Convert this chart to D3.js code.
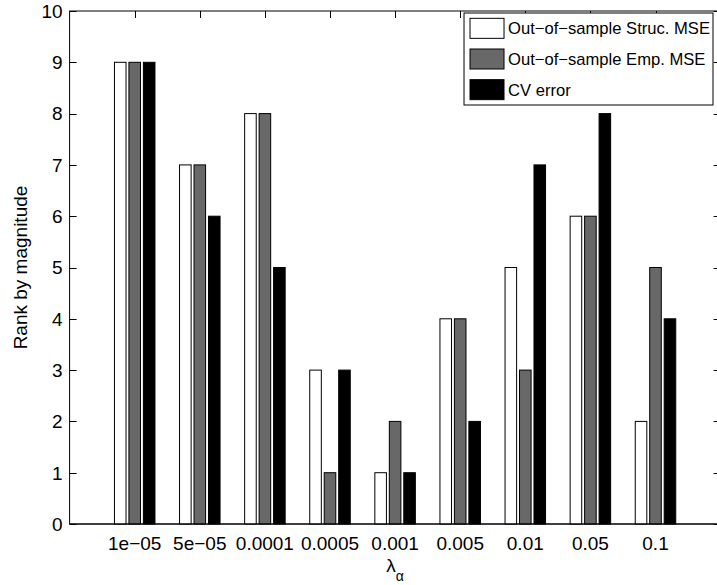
<!DOCTYPE html>
<html>
<head>
<meta charset="utf-8">
<script src="https://cdn.jsdelivr.net/npm/d3@7"></script>
<style>
  html, body { margin: 0; padding: 0; background: #fff; }
  svg { display: block; }
  text { font-family: "Liberation Sans", Arial, Helvetica, sans-serif; fill: #000; }
</style>
</head>
<body>
<svg id="chart" width="717" height="585"></svg>
<script>
const categories = ["1e\u221205", "5e\u221205", "0.0001", "0.0005", "0.001", "0.005", "0.01", "0.05", "0.1"];
const seriesNames = ["Out\u2212of\u2212sample Struc. MSE", "Out\u2212of\u2212sample Emp. MSE", "CV error"];
const strucMSE = [9, 7, 8, 3, 1, 4, 5, 6, 2];
const empMSE   = [9, 7, 8, 1, 2, 4, 3, 6, 5];
const cvError  = [9, 6, 5, 3, 1, 2, 7, 8, 4];
const yTicks = [0, 1, 2, 3, 4, 5, 6, 7, 8, 9, 10];
const colors = ["#ffffff", "#686868", "#000000"];

const series = [strucMSE, empMSE, cvError];

const svg = d3.select("#chart");
const pL = 69.6, pR = 720.6, pT = 11, pB = 524;
const fontSize = 19;
const legFont = 16.6;

const x = d3.scaleLinear().domain([0, 10]).range([pL, pR]);
const y = d3.scaleLinear().domain([0, 10]).range([pB, pT]);

const tickLen = 7;
const g = svg.append("g");

// axes box
g.append("rect")
  .attr("x", pL).attr("y", pT)
  .attr("width", pR - pL).attr("height", pB - pT)
  .attr("fill", "none").attr("stroke", "#000").attr("stroke-width", 1);

// y ticks (left and right, inward)
yTicks.forEach(t => {
  const yy = Math.round(y(t)) + 0.5;
  g.append("line").attr("x1", pL).attr("x2", pL + tickLen).attr("y1", yy).attr("y2", yy).attr("stroke", "#000");
  g.append("line").attr("x1", pR).attr("x2", pR - tickLen).attr("y1", yy).attr("y2", yy).attr("stroke", "#000");
  g.append("text").attr("x", pL - 7).attr("y", y(t)).attr("dy", "0.36em")
    .attr("text-anchor", "end").attr("font-size", fontSize).text(t);
});

// x ticks (top and bottom, inward) and labels
categories.forEach((c, i) => {
  const xx = Math.round(x(i + 1)) + 0.5;
  g.append("line").attr("x1", xx).attr("x2", xx).attr("y1", pT).attr("y2", pT + tickLen).attr("stroke", "#000");
  g.append("line").attr("x1", xx).attr("x2", xx).attr("y1", pB).attr("y2", pB - tickLen).attr("stroke", "#000");
  g.append("text").attr("x", x(i + 1)).attr("y", 550)
    .attr("text-anchor", "middle").attr("font-size", fontSize).text(c);
});

// bars (MATLAB grouped layout)
const nS = series.length;
const groupWidth = Math.min(0.8, nS / (nS + 1.5));
const offsetStep = groupWidth / nS;
const barW = offsetStep * 0.8;
series.forEach((vals, si) => {
  const off = (si - (nS - 1) / 2) * offsetStep;
  g.selectAll(null).data(vals).enter().append("rect")
    .attr("x", (d, i) => x(i + 1 + off - barW / 2))
    .attr("y", d => y(d))
    .attr("width", x(barW) - x(0))
    .attr("height", d => y(0) - y(d))
    .attr("fill", colors[si])
    .attr("stroke", "#000").attr("stroke-width", 1);
});

// redraw bottom axis line over bars
g.append("line").attr("x1", pL).attr("x2", pR).attr("y1", pB).attr("y2", pB)
  .attr("stroke", "#000").attr("stroke-width", 1.2);

// axis labels
svg.append("text")
  .attr("transform", `translate(27,${(pT + pB) / 2}) rotate(-90)`)
  .attr("text-anchor", "middle").attr("font-size", fontSize).text("Rank by magnitude");

const xl = svg.append("text").attr("x", (pL + pR) / 2).attr("y", 572)
  .attr("text-anchor", "middle").attr("font-size", fontSize);
xl.append("tspan").text("\u03bb");
xl.append("tspan").attr("font-size", 14).attr("dy", 9).text("\u03b1");

// legend
const legRight = 713, legTop = 13, legBottom = 105;
const rowH = (legBottom - legTop) / 3;
const lg = svg.append("g");
const box = lg.append("rect").attr("y", legTop).attr("height", legBottom - legTop)
  .attr("fill", "#fff").attr("stroke", "#000").attr("stroke-width", 1);
const texts = seriesNames.map((n, i) => lg.append("text")
  .attr("y", legTop + rowH * (i + 0.5)).attr("dy", "0.36em")
  .attr("font-size", legFont).text(n));
const maxW = d3.max(texts, t => t.node().getComputedTextLength());
const textX = legRight - 3 - maxW;
texts.forEach(t => t.attr("x", textX));
const swW = 34, swH = 20;
const swX = textX - 4 - swW;
seriesNames.forEach((n, i) => {
  lg.append("rect").attr("x", swX).attr("y", legTop + rowH * (i + 0.5) - swH / 2)
    .attr("width", swW).attr("height", swH)
    .attr("fill", colors[i]).attr("stroke", "#000").attr("stroke-width", 1);
});
box.attr("x", swX - 6).attr("width", legRight - (swX - 6));
</script>
</body>
</html>
